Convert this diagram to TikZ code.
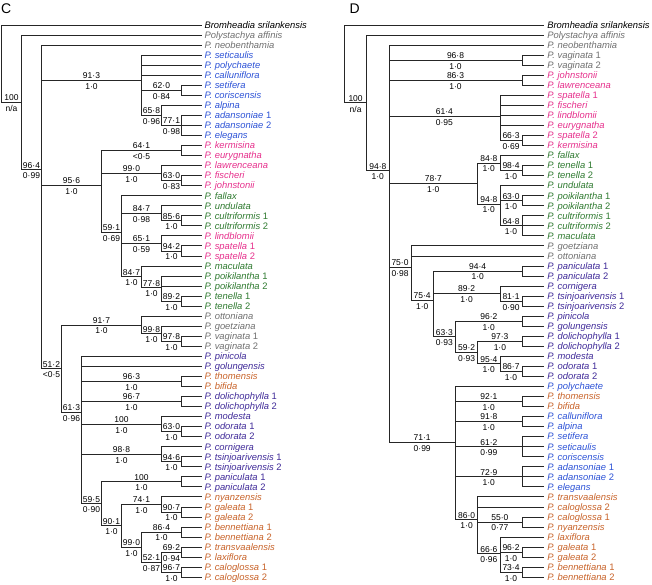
\documentclass[tikz,border=0pt]{standalone}
\usepackage{fontspec}
\setmainfont{Liberation Sans}
\definecolor{tgray}{HTML}{707070}
\definecolor{tblue}{HTML}{2C52D6}
\definecolor{tpink}{HTML}{E6308C}
\definecolor{tgreen}{HTML}{2F7A30}
\definecolor{tindigo}{HTML}{3F2A98}
\definecolor{torange}{HTML}{C8632A}

\begin{document}
\begin{tikzpicture}[
  x=1pt, y=-10.04pt,
  br/.style={draw=black!85, line width=0.8pt},
  taxon/.style={anchor=west, inner xsep=2.8pt, inner ysep=0pt, text height=7.5pt, text depth=0.8pt, font=\fontsize{9.4}{10}\selectfont\itshape},
  boot/.style={pos=0.75, above, inner sep=1.2pt, font=\fontsize{8.5}{9}\selectfont},
  pp/.style={pos=0.75, below, inner sep=2.6pt, font=\fontsize{8.5}{9}\selectfont},
  panel/.style={anchor=base west, inner sep=0pt, font=\fontsize{14}{14}\selectfont}
]
\useasboundingbox (0,-1.49) rectangle (652,56.68);

% panel C
\node[panel] (lblC) at (1,-0.165) {C};
\node[taxon] (c01) at (201.5,1) {Bromheadia srilankensis};
\node[taxon, text=tgray] (c02) at (201.5,2) {Polystachya affinis};
\node[taxon, text=tgray] (c03) at (201.5,3) {P. neobenthamia};
\node[taxon, text=tblue] (c04) at (201.5,4) {P. seticaulis};
\node[taxon, text=tblue] (c05) at (201.5,5) {P. polychaete};
\node[taxon, text=tblue] (c06) at (201.5,6) {P. calluniflora};
\node[taxon, text=tblue] (c07) at (201.5,7) {P. setifera};
\node[taxon, text=tblue] (c08) at (201.5,8) {P. coriscensis};
\node[taxon, text=tblue] (c09) at (201.5,9) {P. alpina};
\node[taxon, text=tblue] (c10) at (201.5,10) {P. adansoniae \textup{1}};
\node[taxon, text=tblue] (c11) at (201.5,11) {P. adansoniae \textup{2}};
\node[taxon, text=tblue] (c12) at (201.5,12) {P. elegans};
\node[taxon, text=tpink] (c13) at (201.5,13) {P. kermisina};
\node[taxon, text=tpink] (c14) at (201.5,14) {P. eurygnatha};
\node[taxon, text=tpink] (c15) at (201.5,15) {P. lawrenceana};
\node[taxon, text=tpink] (c16) at (201.5,16) {P. fischeri};
\node[taxon, text=tpink] (c17) at (201.5,17) {P. johnstonii};
\node[taxon, text=tgreen] (c18) at (201.5,18) {P. fallax};
\node[taxon, text=tgreen] (c19) at (201.5,19) {P. undulata};
\node[taxon, text=tgreen] (c20) at (201.5,20) {P. cultriformis \textup{1}};
\node[taxon, text=tgreen] (c21) at (201.5,21) {P. cultriformis \textup{2}};
\node[taxon, text=tpink] (c22) at (201.5,22) {P. lindblomii};
\node[taxon, text=tpink] (c23) at (201.5,23) {P. spatella \textup{1}};
\node[taxon, text=tpink] (c24) at (201.5,24) {P. spatella \textup{2}};
\node[taxon, text=tgreen] (c25) at (201.5,25) {P. maculata};
\node[taxon, text=tgreen] (c26) at (201.5,26) {P. poikilantha \textup{1}};
\node[taxon, text=tgreen] (c27) at (201.5,27) {P. poikilantha \textup{2}};
\node[taxon, text=tgreen] (c28) at (201.5,28) {P. tenella \textup{1}};
\node[taxon, text=tgreen] (c29) at (201.5,29) {P. tenella \textup{2}};
\node[taxon, text=tgray] (c30) at (201.5,30) {P. ottoniana};
\node[taxon, text=tgray] (c31) at (201.5,31) {P. goetziana};
\node[taxon, text=tgray] (c32) at (201.5,32) {P. vaginata \textup{1}};
\node[taxon, text=tgray] (c33) at (201.5,33) {P. vaginata \textup{2}};
\node[taxon, text=tindigo] (c34) at (201.5,34) {P. pinicola};
\node[taxon, text=tindigo] (c35) at (201.5,35) {P. golungensis};
\node[taxon, text=torange] (c36) at (201.5,36) {P. thomensis};
\node[taxon, text=torange] (c37) at (201.5,37) {P. bifida};
\node[taxon, text=tindigo] (c38) at (201.5,38) {P. dolichophylla \textup{1}};
\node[taxon, text=tindigo] (c39) at (201.5,39) {P. dolichophylla \textup{2}};
\node[taxon, text=tindigo] (c40) at (201.5,40) {P. modesta};
\node[taxon, text=tindigo] (c41) at (201.5,41) {P. odorata \textup{1}};
\node[taxon, text=tindigo] (c42) at (201.5,42) {P. odorata \textup{2}};
\node[taxon, text=tindigo] (c43) at (201.5,43) {P. cornigera};
\node[taxon, text=tindigo] (c44) at (201.5,44) {P. tsinjoarivensis \textup{1}};
\node[taxon, text=tindigo] (c45) at (201.5,45) {P. tsinjoarivensis \textup{2}};
\node[taxon, text=tindigo] (c46) at (201.5,46) {P. paniculata \textup{1}};
\node[taxon, text=tindigo] (c47) at (201.5,47) {P. paniculata \textup{2}};
\node[taxon, text=torange] (c48) at (201.5,48) {P. nyanzensis};
\node[taxon, text=torange] (c49) at (201.5,49) {P. galeata \textup{1}};
\node[taxon, text=torange] (c50) at (201.5,50) {P. galeata \textup{2}};
\node[taxon, text=torange] (c51) at (201.5,51) {P. bennettiana \textup{1}};
\node[taxon, text=torange] (c52) at (201.5,52) {P. bennettiana \textup{2}};
\node[taxon, text=torange] (c53) at (201.5,53) {P. transvaalensis};
\node[taxon, text=torange] (c54) at (201.5,54) {P. laxiflora};
\node[taxon, text=torange] (c55) at (201.5,55) {P. caloglossa \textup{1}};
\node[taxon, text=torange] (c56) at (201.5,56) {P. caloglossa \textup{2}};

\coordinate (cR) at (1.5,4.8564);
\coordinate (cN1) at (21.5,8.7127);
\coordinate (cN2) at (41.5,15.4255);
\coordinate (cA) at (141.5,6.5);
\coordinate (cA1) at (181.5,7.5);
\coordinate (cA2) at (161.5,10);
\coordinate (cA3) at (181.5,11);
\coordinate (cB) at (101.5,16.9653);
\coordinate (cB1) at (181.5,13.5);
\coordinate (cB2) at (161.5,15.75);
\coordinate (cB2a) at (181.5,16.5);
\coordinate (cB3) at (121.5,21.6458);
\coordinate (cB3a) at (161.5,19.75);
\coordinate (cB3a1) at (181.5,20.5);
\coordinate (cB3b) at (161.5,22.75);
\coordinate (cB3b1) at (181.5,23.5);
\coordinate (cB3c) at (141.5,26.0833);
\coordinate (cB3c1) at (161.5,27.1667);
\coordinate (cB3c2) at (181.5,28.5);
\coordinate (cC) at (61.5,35.2366);
\coordinate (cC1) at (141.5,30.875);
\coordinate (cC1a) at (161.5,31.75);
\coordinate (cC1b) at (181.5,32.5);
\coordinate (cC2) at (81.5,39.5982);
\coordinate (cC2a) at (181.5,36.5);
\coordinate (cC2b) at (181.5,38.5);
\coordinate (cC2c) at (161.5,40.75);
\coordinate (cC2c1) at (181.5,41.5);
\coordinate (cC2d) at (161.5,43.75);
\coordinate (cC2d1) at (181.5,44.5);
\coordinate (cC2e) at (101.5,48.6875);
\coordinate (cC2e1) at (181.5,46.5);
\coordinate (cC2f) at (121.5,50.875);
\coordinate (cC2g) at (161.5,48.75);
\coordinate (cC2g1) at (181.5,49.5);
\coordinate (cC2h) at (141.5,53);
\coordinate (cC2h1) at (181.5,51.5);
\coordinate (cC2i) at (161.5,54.5);
\coordinate (cC2i1) at (181.5,53.5);
\coordinate (cC2i2) at (181.5,55.5);

\draw[br] (cR) |- (c01) (cR) |- node[boot]{100} node[pp]{n/a} (cN1);
\draw[br] (cN1) |- (c02) (cN1) |- node[boot]{96·4} node[pp]{0·99} (cN2);
\draw[br] (cN2) |- (c03)
  (cN2) |- node[boot]{91·3} node[pp]{1·0} (cA)
  (cN2) |- node[boot]{95·6} node[pp]{1·0} (cB)
  (cN2) |- node[boot]{51·2} node[pp]{<0·5} (cC);
\draw[br] (cA) |- (c04) (cA) |- (c05) (cA) |- (c06)
  (cA) |- node[boot]{62·0} node[pp]{0·84} (cA1)
  (cA) |- node[boot]{65·8} node[pp]{0·96} (cA2);
\draw[br] (cA1) |- (c07) (cA1) |- (c08);
\draw[br] (cA2) |- (c09) (cA2) |- node[boot]{77·1} node[pp]{0·98} (cA3);
\draw[br] (cA3) |- (c10) (cA3) |- (c11) (cA3) |- (c12);
\draw[br] (cB) |- node[boot]{64·1} node[pp]{<0·5} (cB1)
  (cB) |- node[boot]{99·0} node[pp]{1·0} (cB2)
  (cB) |- node[boot]{59·1} node[pp]{0·69} (cB3);
\draw[br] (cB1) |- (c13) (cB1) |- (c14);
\draw[br] (cB2) |- (c15) (cB2) |- node[boot]{63·0} node[pp]{0·83} (cB2a);
\draw[br] (cB2a) |- (c16) (cB2a) |- (c17);
\draw[br] (cB3) |- (c18)
  (cB3) |- node[boot]{84·7} node[pp]{0·98} (cB3a)
  (cB3) |- node[boot]{65·1} node[pp]{0·59} (cB3b)
  (cB3) |- node[boot]{84·7} node[pp]{1·0} (cB3c);
\draw[br] (cB3a) |- (c19) (cB3a) |- node[boot]{85·6} node[pp]{1·0} (cB3a1);
\draw[br] (cB3a1) |- (c20) (cB3a1) |- (c21);
\draw[br] (cB3b) |- (c22) (cB3b) |- node[boot]{94·2} node[pp]{1·0} (cB3b1);
\draw[br] (cB3b1) |- (c23) (cB3b1) |- (c24);
\draw[br] (cB3c) |- (c25) (cB3c) |- node[boot]{77·8} node[pp]{1·0} (cB3c1);
\draw[br] (cB3c1) |- (c26) (cB3c1) |- (c27)
  (cB3c1) |- node[boot]{89·2} node[pp]{1·0} (cB3c2);
\draw[br] (cB3c2) |- (c28) (cB3c2) |- (c29);
\draw[br] (cC) |- node[boot]{91·7} node[pp]{1·0} (cC1)
  (cC) |- node[boot]{61·3} node[pp]{0·96} (cC2);
\draw[br] (cC1) |- (c30) (cC1) |- node[boot]{99·8} node[pp]{1·0} (cC1a);
\draw[br] (cC1a) |- (c31) (cC1a) |- node[boot]{97·8} node[pp]{1·0} (cC1b);
\draw[br] (cC1b) |- (c32) (cC1b) |- (c33);
\draw[br] (cC2) |- (c34) (cC2) |- (c35)
  (cC2) |- node[boot]{96·3} node[pp]{1·0} (cC2a)
  (cC2) |- node[boot]{96·7} node[pp]{1·0} (cC2b)
  (cC2) |- node[boot]{100} node[pp]{1·0} (cC2c)
  (cC2) |- node[boot]{98·8} node[pp]{1·0} (cC2d)
  (cC2) |- node[boot]{59·5} node[pp]{0·90} (cC2e);
\draw[br] (cC2a) |- (c36) (cC2a) |- (c37);
\draw[br] (cC2b) |- (c38) (cC2b) |- (c39);
\draw[br] (cC2c) |- (c40) (cC2c) |- node[boot]{63·0} node[pp]{1·0} (cC2c1);
\draw[br] (cC2c1) |- (c41) (cC2c1) |- (c42);
\draw[br] (cC2d) |- (c43) (cC2d) |- node[boot]{94·6} node[pp]{1·0} (cC2d1);
\draw[br] (cC2d1) |- (c44) (cC2d1) |- (c45);
\draw[br] (cC2e) |- node[boot]{100} node[pp]{1·0} (cC2e1)
  (cC2e) |- node[boot]{90·1} node[pp]{1·0} (cC2f);
\draw[br] (cC2e1) |- (c46) (cC2e1) |- (c47);
\draw[br] (cC2f) |- node[boot]{74·1} node[pp]{1·0} (cC2g)
  (cC2f) |- node[boot]{99·0} node[pp]{1·0} (cC2h);
\draw[br] (cC2g) |- (c48) (cC2g) |- node[boot]{90·7} node[pp]{1·0} (cC2g1);
\draw[br] (cC2g1) |- (c49) (cC2g1) |- (c50);
\draw[br] (cC2h) |- node[boot]{86·4} node[pp]{1·0} (cC2h1)
  (cC2h) |- node[boot]{52·1} node[pp]{0·87} (cC2i);
\draw[br] (cC2h1) |- (c51) (cC2h1) |- (c52);
\draw[br] (cC2i) |- node[boot]{69·2} node[pp]{0·94} (cC2i1)
  (cC2i) |- node[boot]{96·7} node[pp]{1·0} (cC2i2);
\draw[br] (cC2i1) |- (c53) (cC2i1) |- (c54);
\draw[br] (cC2i2) |- (c55) (cC2i2) |- (c56);

% panel D
\node[panel] (lblD) at (349.3,-0.165) {D};
\node[taxon] (d01) at (544.3,1) {Bromheadia srilankensis};
\node[taxon, text=tgray] (d02) at (544.3,2) {Polystachya affinis};
\node[taxon, text=tgray] (d03) at (544.3,3) {P. neobenthamia};
\node[taxon, text=tgray] (d04) at (544.3,4) {P. vaginata \textup{1}};
\node[taxon, text=tgray] (d05) at (544.3,5) {P. vaginata \textup{2}};
\node[taxon, text=tpink] (d06) at (544.3,6) {P. johnstonii};
\node[taxon, text=tpink] (d07) at (544.3,7) {P. lawrenceana};
\node[taxon, text=tpink] (d08) at (544.3,8) {P. spatella \textup{1}};
\node[taxon, text=tpink] (d09) at (544.3,9) {P. fischeri};
\node[taxon, text=tpink] (d10) at (544.3,10) {P. lindblomii};
\node[taxon, text=tpink] (d11) at (544.3,11) {P. eurygnatha};
\node[taxon, text=tpink] (d12) at (544.3,12) {P. spatella \textup{2}};
\node[taxon, text=tpink] (d13) at (544.3,13) {P. kermisina};
\node[taxon, text=tgreen] (d14) at (544.3,14) {P. fallax};
\node[taxon, text=tgreen] (d15) at (544.3,15) {P. tenella \textup{1}};
\node[taxon, text=tgreen] (d16) at (544.3,16) {P. tenella \textup{2}};
\node[taxon, text=tgreen] (d17) at (544.3,17) {P. undulata};
\node[taxon, text=tgreen] (d18) at (544.3,18) {P. poikilantha \textup{1}};
\node[taxon, text=tgreen] (d19) at (544.3,19) {P. poikilantha \textup{2}};
\node[taxon, text=tgreen] (d20) at (544.3,20) {P. cultriformis \textup{1}};
\node[taxon, text=tgreen] (d21) at (544.3,21) {P. cultriformis \textup{2}};
\node[taxon, text=tgreen] (d22) at (544.3,22) {P. maculata};
\node[taxon, text=tgray] (d23) at (544.3,23) {P. goetziana};
\node[taxon, text=tgray] (d24) at (544.3,24) {P. ottoniana};
\node[taxon, text=tindigo] (d25) at (544.3,25) {P. paniculata \textup{1}};
\node[taxon, text=tindigo] (d26) at (544.3,26) {P. paniculata \textup{2}};
\node[taxon, text=tindigo] (d27) at (544.3,27) {P. cornigera};
\node[taxon, text=tindigo] (d28) at (544.3,28) {P. tsinjoarivensis \textup{1}};
\node[taxon, text=tindigo] (d29) at (544.3,29) {P. tsinjoarivensis \textup{2}};
\node[taxon, text=tindigo] (d30) at (544.3,30) {P. pinicola};
\node[taxon, text=tindigo] (d31) at (544.3,31) {P. golungensis};
\node[taxon, text=tindigo] (d32) at (544.3,32) {P. dolichophylla \textup{1}};
\node[taxon, text=tindigo] (d33) at (544.3,33) {P. dolichophylla \textup{2}};
\node[taxon, text=tindigo] (d34) at (544.3,34) {P. modesta};
\node[taxon, text=tindigo] (d35) at (544.3,35) {P. odorata \textup{1}};
\node[taxon, text=tindigo] (d36) at (544.3,36) {P. odorata \textup{2}};
\node[taxon, text=tblue] (d37) at (544.3,37) {P. polychaete};
\node[taxon, text=torange] (d38) at (544.3,38) {P. thomensis};
\node[taxon, text=torange] (d39) at (544.3,39) {P. bifida};
\node[taxon, text=tblue] (d40) at (544.3,40) {P. calluniflora};
\node[taxon, text=tblue] (d41) at (544.3,41) {P. alpina};
\node[taxon, text=tblue] (d42) at (544.3,42) {P. setifera};
\node[taxon, text=tblue] (d43) at (544.3,43) {P. seticaulis};
\node[taxon, text=tblue] (d44) at (544.3,44) {P. coriscensis};
\node[taxon, text=tblue] (d45) at (544.3,45) {P. adansoniae \textup{1}};
\node[taxon, text=tblue] (d46) at (544.3,46) {P. adansoniae \textup{2}};
\node[taxon, text=tblue] (d47) at (544.3,47) {P. elegans};
\node[taxon, text=torange] (d48) at (544.3,48) {P. transvaalensis};
\node[taxon, text=torange] (d49) at (544.3,49) {P. caloglossa \textup{2}};
\node[taxon, text=torange] (d50) at (544.3,50) {P. caloglossa \textup{1}};
\node[taxon, text=torange] (d51) at (544.3,51) {P. nyanzensis};
\node[taxon, text=torange] (d52) at (544.3,52) {P. laxiflora};
\node[taxon, text=torange] (d53) at (544.3,53) {P. galeata \textup{1}};
\node[taxon, text=torange] (d54) at (544.3,54) {P. galeata \textup{2}};
\node[taxon, text=torange] (d55) at (544.3,55) {P. bennettiana \textup{1}};
\node[taxon, text=torange] (d56) at (544.3,56) {P. bennettiana \textup{2}};

\coordinate (dR) at (344.5,4.878);
\coordinate (dN1) at (366.7,8.7562);
\coordinate (dN2) at (388.9,15.5123);
\coordinate (dV) at (522.1,4.5);
\coordinate (dJ) at (522.1,6.5);
\coordinate (dS) at (499.9,10.1);
\coordinate (dS1) at (522.1,12.5);
\coordinate (dG) at (477.7,16.7917);
\coordinate (dG1) at (499.9,14.75);
\coordinate (dG1a) at (522.1,15.5);
\coordinate (dG2) at (499.9,18.8333);
\coordinate (dG2a) at (522.1,18.5);
\coordinate (dG2b) at (522.1,21);
\coordinate (dC) at (411.1,25.1458);
\coordinate (dC1) at (433.3,28.4375);
\coordinate (dP) at (522.1,25.5);
\coordinate (dK) at (499.9,27.75);
\coordinate (dK1) at (522.1,28.5);
\coordinate (dQ) at (455.5,32.0625);
\coordinate (dQ1) at (522.1,30.5);
\coordinate (dQ2) at (477.7,33.625);
\coordinate (dQ3) at (522.1,32.5);
\coordinate (dQ4) at (499.9,34.75);
\coordinate (dQ5) at (522.1,35.5);
\coordinate (dB) at (455.5,42.5486);
\coordinate (dB1) at (522.1,38.5);
\coordinate (dB2) at (522.1,40.5);
\coordinate (dB3) at (522.1,43);
\coordinate (dB4) at (522.1,46);
\coordinate (dO) at (477.7,50.2917);
\coordinate (dO1) at (522.1,50.5);
\coordinate (dO2) at (499.9,53.6667);
\coordinate (dO3) at (522.1,53.5);
\coordinate (dO4) at (522.1,55.5);

\draw[br] (dR) |- (d01) (dR) |- node[boot]{100} node[pp]{n/a} (dN1);
\draw[br] (dN1) |- (d02) (dN1) |- node[boot]{94·8} node[pp]{1·0} (dN2);
\draw[br] (dN2) |- (d03)
  (dN2) |- node[boot]{96·8} node[pp]{1·0} (dV)
  (dN2) |- node[boot]{86·3} node[pp]{1·0} (dJ)
  (dN2) |- node[boot]{61·4} node[pp]{0·95} (dS)
  (dN2) |- node[boot]{78·7} node[pp]{1·0} (dG)
  (dN2) |- node[boot]{75·0} node[pp]{0·98} (dC)
  (dN2) |- node[boot]{71·1} node[pp]{0·99} (dB);
\draw[br] (dV) |- (d04) (dV) |- (d05);
\draw[br] (dJ) |- (d06) (dJ) |- (d07);
\draw[br] (dS) |- (d08) (dS) |- (d09) (dS) |- (d10) (dS) |- (d11)
  (dS) |- node[boot]{66·3} node[pp]{0·69} (dS1);
\draw[br] (dS1) |- (d12) (dS1) |- (d13);
\draw[br] (dG) |- node[boot]{84·8} node[pp]{1·0} (dG1)
  (dG) |- node[boot]{94·8} node[pp]{1·0} (dG2);
\draw[br] (dG1) |- (d14) (dG1) |- node[boot]{98·4} node[pp]{1·0} (dG1a);
\draw[br] (dG1a) |- (d15) (dG1a) |- (d16);
\draw[br] (dG2) |- (d17)
  (dG2) |- node[boot]{63·0} node[pp]{1·0} (dG2a)
  (dG2) |- node[boot]{64·8} node[pp]{1·0} (dG2b);
\draw[br] (dG2a) |- (d18) (dG2a) |- (d19);
\draw[br] (dG2b) |- (d20) (dG2b) |- (d21) (dG2b) |- (d22);
\draw[br] (dC) |- (d23) (dC) |- (d24)
  (dC) |- node[boot]{75·4} node[pp]{1·0} (dC1);
\draw[br] (dC1) |- node[boot]{94·4} node[pp]{1·0} (dP)
  (dC1) |- node[boot]{89·2} node[pp]{1·0} (dK)
  (dC1) |- node[boot]{63·3} node[pp]{0·93} (dQ);
\draw[br] (dP) |- (d25) (dP) |- (d26);
\draw[br] (dK) |- (d27) (dK) |- node[boot]{81·1} node[pp]{0·90} (dK1);
\draw[br] (dK1) |- (d28) (dK1) |- (d29);
\draw[br] (dQ) |- node[boot]{96·2} node[pp]{1·0} (dQ1)
  (dQ) |- node[boot]{59·2} node[pp]{0·93} (dQ2);
\draw[br] (dQ1) |- (d30) (dQ1) |- (d31);
\draw[br] (dQ2) |- node[boot]{97·3} node[pp]{1·0} (dQ3)
  (dQ2) |- node[boot]{95·4} node[pp]{1·0} (dQ4);
\draw[br] (dQ3) |- (d32) (dQ3) |- (d33);
\draw[br] (dQ4) |- (d34) (dQ4) |- node[boot]{86·7} node[pp]{1·0} (dQ5);
\draw[br] (dQ5) |- (d35) (dQ5) |- (d36);
\draw[br] (dB) |- (d37)
  (dB) |- node[boot]{92·1} node[pp]{1·0} (dB1)
  (dB) |- node[boot]{91·8} node[pp]{1·0} (dB2)
  (dB) |- node[boot]{61·2} node[pp]{0·99} (dB3)
  (dB) |- node[boot]{72·9} node[pp]{1·0} (dB4)
  (dB) |- node[boot]{86·0} node[pp]{1·0} (dO);
\draw[br] (dB1) |- (d38) (dB1) |- (d39);
\draw[br] (dB2) |- (d40) (dB2) |- (d41);
\draw[br] (dB3) |- (d42) (dB3) |- (d43) (dB3) |- (d44);
\draw[br] (dB4) |- (d45) (dB4) |- (d46) (dB4) |- (d47);
\draw[br] (dO) |- (d48) (dO) |- (d49)
  (dO) |- node[boot]{55·0} node[pp]{0·77} (dO1)
  (dO) |- node[boot]{66·6} node[pp]{0·96} (dO2);
\draw[br] (dO1) |- (d50) (dO1) |- (d51);
\draw[br] (dO2) |- (d52)
  (dO2) |- node[boot]{96·2} node[pp]{1·0} (dO3)
  (dO2) |- node[boot]{73·4} node[pp]{1·0} (dO4);
\draw[br] (dO3) |- (d53) (dO3) |- (d54);
\draw[br] (dO4) |- (d55) (dO4) |- (d56);
\end{tikzpicture}
\end{document}
